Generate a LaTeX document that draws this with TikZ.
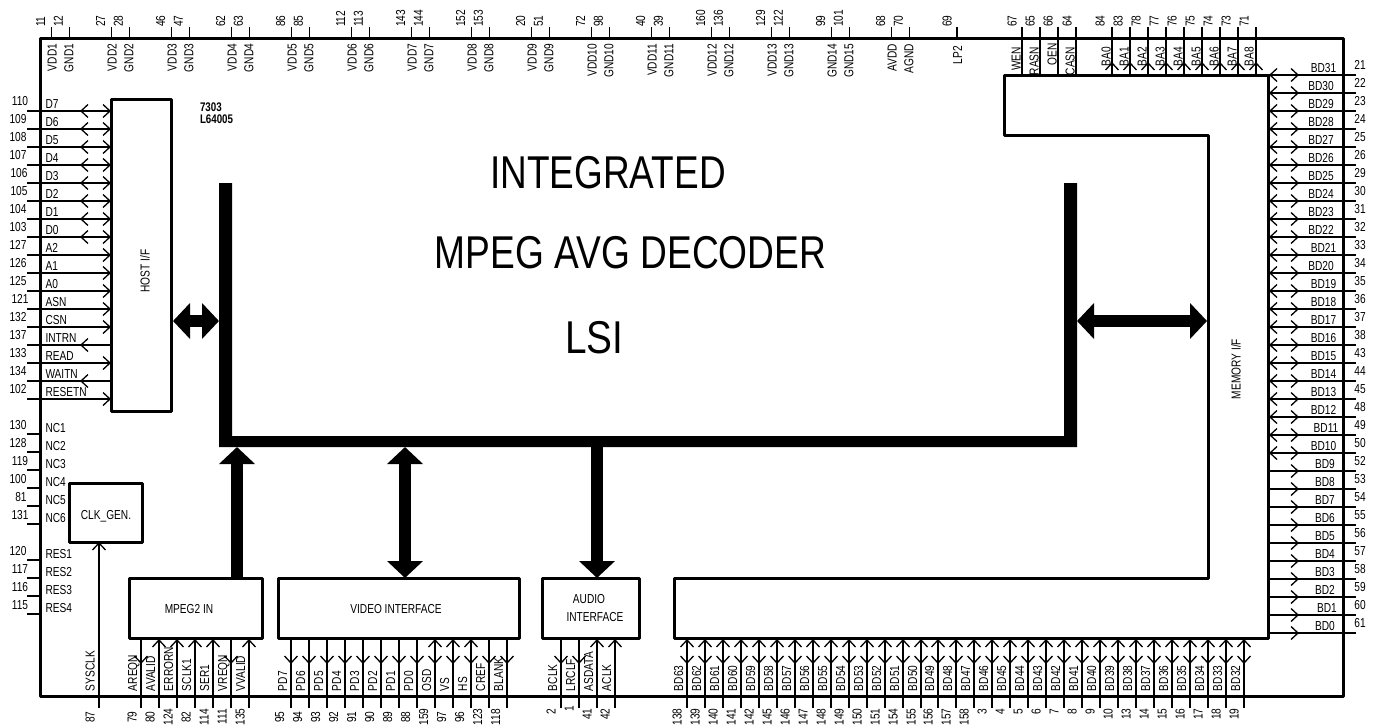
\documentclass[tikz,border=0pt]{standalone}
\usepackage{fontspec}
\usetikzlibrary{arrows.meta,calc}
\newfontfamily\nar[FakeStretch=0.78]{Liberation Sans}
\tikzset{
  txt/.style={font=\nar\fontsize{13}{15}\selectfont,inner sep=0pt,outer sep=0pt,text height=9.3pt,text depth=0pt},
  vtxt/.style={txt,rotate=90},
  blockbox/.style={draw,line width=3pt,inner sep=0pt,outer sep=0pt,line join=round},
  pinline/.style={line width=1.3pt},
  barbline/.style={line width=1.3pt},
  bigarrow/.style={line width=12pt},
  bigtip/.style={arrows={-{Triangle[length=17pt,width=35pt]}}},
  bigtips/.style={arrows={{Triangle[length=17pt,width=35pt]}-{Triangle[length=17pt,width=35pt]}}},
  bigtext/.style={font=\nar\fontsize{46}{50}\selectfont,inner sep=0pt,outer sep=0pt}
}
% open arrow heads: tip at the given point
\newcommand{\barbL}[2]{\draw[barbline] (#1+7,#2-6.5) -- (#1,#2) -- (#1+7,#2+6.5);}
\newcommand{\barbR}[2]{\draw[barbline] (#1-7,#2-6.5) -- (#1,#2) -- (#1-7,#2+6.5);}
\newcommand{\barbU}[2]{\draw[barbline] (#1-6.5,#2+7) -- (#1,#2) -- (#1+6.5,#2+7);}
\newcommand{\barbD}[2]{\draw[barbline] (#1-6.5,#2-7) -- (#1,#2) -- (#1+6.5,#2-7);}
% bottom pins: block, number offset, list x/label/number/code/number y (code 1 up, 2 down, 3 both)
\newcommand{\bottompins}[3]{%
  \foreach \px/\plab/\pnum/\pc/\ny in {#3}{%
    \coordinate (b-\pnum) at (\px,708);
    \draw[pinline] (b-\pnum) -- (b-\pnum |- #1.south);
    \node[vtxt,anchor=west] (bl-\pnum) at (\px-8.5,691) {\plab};
    \node[vtxt] (bn-\pnum) at (\px-#2,\ny) {\pnum};
    \ifodd\pc \barbU{\px}{640}\fi
    \ifnum\pc>1 \barbD{\px}{663}\fi
  }}
\begin{document}
\begin{tikzpicture}[x=1pt,y=-1pt]
\path[use as bounding box,fill=white] (0,0) rectangle (1375,725);

% outer frame and blocks
\node[blockbox,minimum width=1303.5pt,minimum height=657pt] (frame) at (691.75,367.5) {};
\node[blockbox,minimum width=60pt,minimum height=312pt] (host) at (141,255) {};
\node[vtxt] (hosttxt) at (145,271) {HOST I/F};
\node[blockbox,minimum width=73pt,minimum height=59pt] (clk) at (105.5,512.5) {};
\node[txt] (clktxt) at (106,515) {CLK\_GEN.};
\node[blockbox,minimum width=133pt,minimum height=60pt] (mpeg) at (195.5,608) {};
\node[txt] (mpegtxt) at (189,609) {MPEG2 IN};
\node[blockbox,minimum width=241pt,minimum height=60pt] (video) at (398.5,608) {};
\node[txt] (videotxt) at (396,609) {VIDEO INTERFACE};
\node[blockbox,minimum width=97pt,minimum height=60pt] (audio) at (590.5,608) {};
\node[txt] (audiotxt1) at (589,599) {AUDIO};
\node[txt] (audiotxt2) at (595,617) {INTERFACE};

% memory interface block
\draw[line width=3pt,line join=round] (1004,75) coordinate (memTL) -- (1268,75) coordinate (memTR)
  -- (1268,638) coordinate (memBR) -- (674,638) coordinate (memBL) -- (674,578) -- (1208,578)
  -- (1208,135) coordinate (memIn) -- (1004,135) -- cycle;
\node[vtxt] (memtxt) at (1236,369) {MEMORY I/F};

% central bus
\fill (219,183) -- (232,183) -- (232,436) -- (1064,436) -- (1064,183) -- (1077,183) -- (1077,447) -- (219,447) -- cycle;
\coordinate (busL) at (219,321);
\coordinate (busR) at (1077,321);
\coordinate (busM) at (237,447);
\coordinate (busV) at (405,447);
\coordinate (busA) at (597,447);
\coordinate (hostE) at (173,321);
\coordinate (memW) at (1207,321);
\draw[bigarrow,bigtips] (hostE) -- (busL);
\draw[bigarrow,bigtips] (busR) -- (memW);
\draw[bigarrow,bigtip] (busM |- mpeg.north) -- (busM);
\draw[bigarrow,bigtips] (busV) -- (busV |- video.north);
\draw[bigarrow,bigtip] (busA) -- (busA |- audio.north);

% title
\node[bigtext] (t1) at (608,172.5) {\scalebox{1.03}[1]{INTEGRATED}};
\node[bigtext] (t2) at (630.5,253) {\scalebox{1.035}[1]{MPEG AVG DECODER}};
\node[bigtext] (t3) at (594.5,338) {\scalebox{1.08}[1]{LSI}};
\node[txt,align=left,anchor=north west,font=\nar\bfseries\fontsize{12.5}{12}\selectfont,text height=,text depth=] (code) at (200,103) {7303\\L64005};

% top power pins
\foreach \a/\b/\na/\nb [count=\i from 0] in {VDD1/GND1/11/12,VDD2/GND2/27/28,VDD3/GND3/46/47,VDD4/GND4/62/63,VDD5/GND5/86/85,VDD6/GND6/112/113,VDD7/GND7/143/144,VDD8/GND8/152/153,VDD9/GND9/20/51,VDD10/GND10/72/98,VDD11/GND11/40/39,VDD12/GND12/160/136,VDD13/GND13/129/122,GND14/GND15/99/101,AVDD/AGND/68/70}{
  \coordinate (t-\na) at ({51.7+60*\i},27);
  \coordinate (t-\nb) at ({69.5+60*\i},27);
  \draw[pinline] (t-\na) -- (t-\na |- frame.north);
  \draw[pinline] (t-\nb) -- (t-\nb |- frame.north);
  \node[vtxt,anchor=east] (tl-\na) at ($(t-\na)+(0.3,17)$) {\a};
  \node[vtxt,anchor=east] (tl-\nb) at ($(t-\nb)+(-0.8,17)$) {\b};
  \node[vtxt,anchor=west] (tn-\na) at ($(t-\na)+(-11.3,0)$) {\na};
  \node[vtxt,anchor=west] (tn-\nb) at ($(t-\nb)+(-11.3,0)$) {\nb};
}
% LP2
\coordinate (t-69) at (957,27);
\draw[pinline] (t-69) -- (t-69 |- frame.north);
\node[vtxt,anchor=east] (tl-69) at (957.5,46) {LP2};
\node[vtxt,anchor=west] (tn-69) at (947,27) {69};
% memory control pins
\foreach \px/\lab/\num/\lx/\ly/\nx in {1022/WEN/67/1016/47/1012,1040/RASN/65/1034/47/1030,1058/OEN/66/1052/43.5/1048,1076/CASN/64/1070/47/1067,1112/BA0/84/1106/47/1100,1130/BA1/83/1124/47/1118,1148/BA2/78/1142/47/1136,1166/BA3/77/1160/47/1154,1184/BA4/76/1178/47/1172,1202/BA5/75/1196/47/1190,1220/BA6/74/1214/47/1208,1238/BA7/73/1232/47/1226,1256/BA8/71/1249/47/1244}{
  \coordinate (t-\num) at (\px,27);
  \draw[pinline] (t-\num) -- (t-\num |- memTL);
  \node[vtxt,anchor=east] (tl-\num) at (\lx,\ly) {\lab};
  \node[vtxt,anchor=west] (tn-\num) at (\nx,27) {\num};
  \ifnum\px>1100 \barbU{\px}{63}\fi
}

% left pins to host block (code 1 in, 2 out, 3 both)
\foreach \lab/\num/\nx/\pc [count=\i from 0] in {D7/110/20/3,D6/109/18/3,D5/108/18/3,D4/107/18/3,D3/106/19/3,D2/105/19/3,D1/104/18/3,D0/103/18/3,A2/127/18/1,A1/126/18/1,A0/125/18/1,ASN/121/20/1,CSN/132/18/1,INTRN/137/18/2,READ/133/18/1,WAITN/134/18/2,RESETN/102/18/1}{
  \pgfmathsetmacro{\py}{111+18*\i}
  \coordinate (l-\num) at (27,\py);
  \draw[pinline] (l-\num) -- (l-\num -| host.west);
  \node[txt,anchor=west] (ll-\num) at (45.5,\py-7) {\lab};
  \node[txt] (ln-\num) at (\nx,\py-10) {\num};
  \ifodd\pc \barbR{110}{\py}\fi
  \ifnum\pc>1 \barbL{81}{\py}\fi
}
% NC and RES pins
\foreach \lab/\num/\nx/\py in {NC1/130/18/434,NC2/128/18/452,NC3/119/20/470,NC4/100/18/488,NC5/81/21/506,NC6/131/20/524,RES1/120/18/560,RES2/117/20/578,RES3/116/20/596,RES4/115/20/614}{
  \coordinate (l-\num) at (27,\py);
  \draw[pinline] (l-\num) -- (l-\num -| frame.west);
  \node[txt,anchor=west] (ll-\num) at (45.5,\py-6) {\lab};
  \node[txt] (ln-\num) at (\nx,\py-9) {\num};
}

% SYSCLK
\coordinate (b-87) at (99,708);
\draw[pinline] (b-87) -- (b-87 |- clk.south);
\barbU{99}{543}
\node[vtxt,anchor=west] (bl-87) at (90,691) {SYSCLK};
\node[vtxt] (bn-87) at (90,717) {87};

% bottom pins
\bottompins{mpeg}{9}{141/AREQN/79/2/717,159/AVALID/80/1/717,177/ERRORN/124/1/717,195/SCLK1/82/1/717,213/SER1/114/1/717,231/VREQN/111/2/717,249/VVALID/135/1/717}
\bottompins{video}{11.5}{291/PD7/95/2/717,309/PD6/94/2/717,327/PD5/93/2/717,345/PD4/92/2/717,363/PD3/91/2/717,381/PD2/90/2/717,399/PD1/89/2/717,417/PD0/88/2/717,435/OSD/159/3/717,453/VS/97/3/717,471/HS/96/3/717,489/CREF/123/2/717,507/BLANK/118/2/717}
\bottompins{audio}{10}{561/BCLK/2/2/712,579/LRCLF/1/2/709,597/ASDATA/41/1/714,615/ACLK/42/1/714}
\bottompins{memBL}{10}{687/BD63/138/3/717,705/BD62/139/3/717,723/BD61/140/3/717,741/BD60/141/3/717,759/BD59/142/3/717,777/BD58/145/3/717,795/BD57/146/3/717,813/BD56/147/3/717,831/BD55/148/3/717,849/BD54/149/3/717,867/BD53/150/3/717,885/BD52/151/3/717,903/BD51/154/3/717,921/BD50/155/3/717,938/BD49/156/3/717,956/BD48/157/3/717,974/BD47/158/3/717,992/BD46/3/3/712,1010/BD45/4/3/712,1028/BD44/5/3/712,1046/BD43/6/3/712,1064/BD42/7/3/712,1082/BD41/8/3/712,1100/BD40/9/3/712,1118/BD39/10/3/714,1136/BD38/13/3/714,1154/BD37/14/3/714,1172/BD36/15/3/714,1190/BD35/16/3/714,1208/BD34/17/3/714,1226/BD33/18/3/714,1244/BD32/19/3/714}

% right pins
\foreach \num/\lx [count=\i from 0] in {21/1323.5,22/1321,23/1321,24/1321,25/1321,26/1321,29/1321,30/1321,31/1321,32/1321,33/1323.5,34/1321,35/1323.5,36/1323.5,37/1323.5,38/1323.5,43/1323.5,44/1323.5,45/1323.5,48/1323.5,49/1326,50/1323.5,52/1325,53/1325,54/1325,55/1325,56/1325,57/1325,58/1325,59/1325,60/1327,61/1325}{
  \pgfmathsetmacro{\py}{75+18*\i}
  \pgfmathtruncatemacro{\bd}{31-\i}
  \coordinate (r-\num) at (1356,\py);
  \draw[pinline] (r-\num -| memTR) -- (r-\num);
  \node[txt] (rl-\num) at (\lx,\py-7) {BD\bd};
  \node[txt] (rn-\num) at (1360,\py-10) {\num};
  \barbR{1298}{\py}
  \ifnum\i<22 \barbL{1270}{\py}\fi
}
\end{tikzpicture}
\end{document}
